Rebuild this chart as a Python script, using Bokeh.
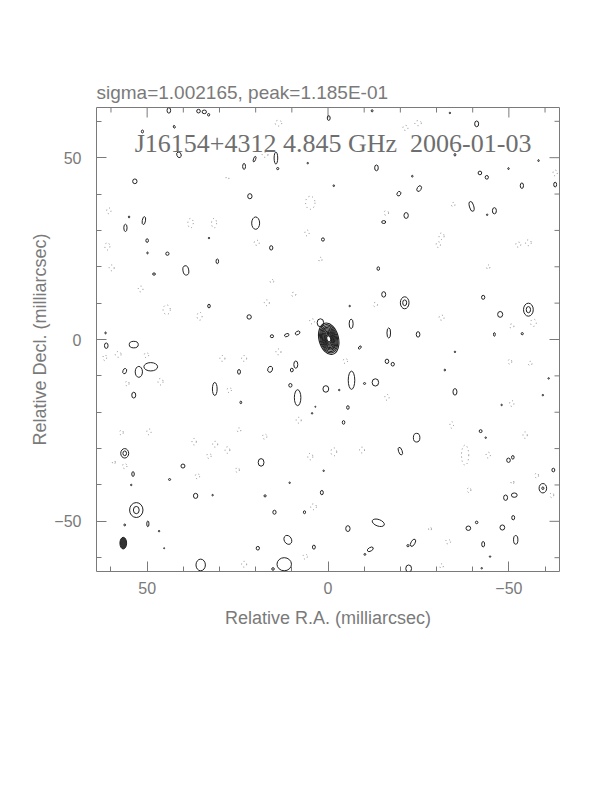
from bokeh.plotting import figure
from bokeh.models import Range1d, FixedTicker, Label, ColumnDataSource
from bokeh.embed import file_html
from bokeh.resources import INLINE
import math

# ---------------- data (milliarcsec) ----------------
sigma_text = "sigma=1.002165, peak=1.185E-01"
map_title = "J16154+4312 4.845 GHz\u00a0\u00a02006-01-03"
major_ticks = [-50, 0, 50]
minor_ticks = [-60, -40, -30, -20, -10, 10, 20, 30, 40, 60]
tick_labels = {-50: "\u221250", 0: "0", 50: "50"}
x_lim = [64, -64]
y_lim = [-63.8, 63.8]

# core component: centre, outer contour size, position angle, relative contour sizes
core_ra = -0.2
core_dec = 0.2
core_w = 5.4
core_h = 8.8
core_angle = 14
core_levels = [1.0, 0.9, 0.81, 0.72, 0.64, 0.56, 0.48, 0.41, 0.34, 0.27, 0.2]

# restoring beam
beam_ra = 56.6
beam_dec = -56.0
beam_w = 1.85
beam_h = 3.2

# positive (solid) noise contours: ra, dec, width, height, angle
pos_ra = [44, 35.8, 34.2, 33, 42.5, 51.3, 41.2, 23.2, 20.3, 53.4, 21.6, 55, 50.9, 56, 20.0, 50, 32.9, 49.9, 44.4, 30.6,
          39.3, 48.1, 32.9, 21.8, 61.5, -0.2, -12.2, 14.4, 13.9, 5.6, -13.4, -1.6, -19.6, -15.4, -21.6, 15.7, 1.4, -13.9,
          -15.4, -21.2, -6, 2.1, -6.4, -16.8, 15.5, 11.4, 8.4, -41.1, -33.7, -35.1, -42, -43.9, -49.9, -58.2, -62.8,
          -23.3, -25.2, -53.6, -39.7, -46, -44, -42.9, -47.6, -55.4, -24.9, -46, -53.7,
          61.3, 53.7, 56.2, 52.3, 49, 53.7, 31.3, 24.6, 24.1, 56.2, 53.9, 54.4, 40.1, 43.8, 36.6, 31.9, 53, 56.2, 49.8,
          46.7, 35.2, 45.3,
          -8.8, -16.3, -17.9, 16, 8.9, 10, 10.4, 8.4, 0.6, -6.5, -13.1, -10.1, -3.1, -5.5, -4.3, 3.5, 4.4, -20, 18.5,
          1.2, 10.6, 1.7, 17.4, 14.8, 6.5, -13.9, -5.5, 11.1, 19.4, 3.9, -11.7, -10.2, 12.1, 15.2, -22.1, -22.3,
          -35.1, -24.5, -32.3, -42.2, -43.6, -48, -49.9, -51.1, -62.3, -59.4, -49.1, -51.5, -51.2, -38.8, -41.1, -48.2,
          -23.5, -42.9, -51.9, -44.8, -42.5, -61, -59.4, -35.1]
pos_dec = [63, 62.8, 62.6, 61.8, 58.5, 57.2, 50.8, 47.6, 49.6, 43.5, 39.4, 33.7, 32.7, 30.7, 32, 27.2, 27.9, 23.8, 23.6, 21.5,
           19, 18, 9.2, 6.2, 1.8, 60.9, 62.9, 49.9, 47, 48.5, 47.2, 42.3, 40.1, 32.3, 34.1, 25.2, 27.5, 19.5,
           12.4, 10.1, 9.2, 4.6, 4.3, 1.8, 0.9, 1.2, 1.8, 59.3, 62.3, 50.8, 45.8, 44.6, 47, 49.2, 42.6,
           44.9, 41.5, 42.3, 36.6, 35.4, 34.3, 11.6, 6.9, 8.2, 1.4, 1.4, 1.6,
           -1.7, -1.4, -8.7, -8.9, -7.5, -15.3, -13.6, -8.9, -17.3, -31.3, -37, -40, -34.8, -38.5, -43, -42.8, -46.9, -51,
           -50.7, -52.7, -62, -57.4,
           -2.2, -6, -6.8, -8.2, -6.9, -8.4, -12.6, -16, -13.6, -11.2, -11.8, -12.1, -13.9, -18.7, -22.8, -18.5, -20.3,
           -30.7, -33.8, -36.1, -39.4, -42.1, -43, -47.5, -47.5, -50.4, -52, -55.1, -57.4, -57.1, -57.7, -59.1, -61.8,
           -63.1, -56.7, -63.0,
           -14.4, -27, -8.4, -25.2, -27, -18, -33.2, -32.4, -35.9, -40.9, -43.5, -42.8, -49, -51.9, -50.3, -51.7,
           -55.9, -56.3, -55.1, -59.7, -62.9, -10.7, -15.3, -3.4]
pos_w = [1.0, 1.0, 1.2, 0.6, 0.5, 0.6, 1.2, 0.8, 0.6, 1.2, 1.2, 0.4, 0.9, 0.9, 2.2, 0.7, 0.4, 0.4, 0.9, 0.7,
         1.6, 0.8, 0.7, 1.2, 0.4, 0.8, 0.5, 1.0, 0.6, 0.4, 1.0, 0.4, 1.0, 1.1, 1.2, 0.9, 0.8, 0.7,
         1.1, 2.4, 0.4, 1.8, 1.1, 1.0, 0.9, 1.3, 1.4, 1.1, 0.4, 0.5, 1.0, 0.9, 0.4, 0.4, 0.8,
         0.4, 1.1, 0.9, 1.2, 1.1, 0.4, 0.9, 1.4, 2.7, 1.0, 0.5, 0.6,
         1.0, 2.5, 1.0, 2.0, 3.8, 1.1, 1.3, 0.8, 0.5, 2.2, 0.7, 0.4, 1.1, 0.6, 1.2, 0.4, 3.7, 0.5, 0.6,
         0.4, 2.6, 0.3,
         0.6, 1.0, 0.9, 1.3, 1.1, 0.8, 0.9, 1.8, 1.6, 1.8, 1.8, 0.6, 0.4, 0.7, 0.7, 0.3, 0.4, 1.0, 1.6,
         0.4, 0.4, 0.8, 0.6, 0.9, 0.6, 3.5, 1.2, 2.0, 0.9, 0.8, 1.8, 0.5, 4.0, 0.7, 0.6, 1.6,
         1.1, 1.8, 0.4, 0.8, 0.4, 0.4, 1.0, 0.7, 0.8, 2.1, 1.1, 1.6, 0.8, 1.3, 0.7, 1.3,
         1.1, 0.8, 1.2, 0.4, 0.4, 0.4, 0.4, 0.4]
pos_h = [1.5, 1.0, 1.0, 0.7, 0.8, 0.8, 1.6, 1.6, 1.6, 1.3, 1.4, 0.5, 2.2, 2.0, 3.4, 1.0, 0.4, 0.5, 0.9, 1.3,
         2.6, 0.6, 1.0, 1.2, 0.5, 1.3, 0.6, 3.3, 0.6, 0.4, 1.6, 0.5, 1.3, 0.8, 1.6, 1.2, 0.9, 1.0,
         1.5, 3.3, 0.4, 2.2, 2.6, 2.8, 0.8, 0.8, 0.9, 1.6, 0.4, 0.7, 1.0, 1.0, 0.5, 0.5, 1.3,
         0.5, 1.7, 1.5, 2.8, 1.7, 0.4, 1.1, 1.6, 3.6, 1.5, 1.0, 0.6,
         1.5, 1.8, 1.5, 3.0, 2.3, 1.6, 3.6, 1.3, 0.7, 2.6, 1.3, 0.4, 1.1, 0.5, 1.4, 0.4, 4.1, 0.5, 1.6,
         0.4, 3.2, 0.3,
         1.0, 1.2, 1.0, 1.7, 2.0, 1.0, 1.0, 4.4, 1.8, 5.0, 2.0, 0.5, 0.4, 1.0, 1.0, 0.3, 0.4, 2.2, 2.1,
         0.4, 0.4, 1.2, 0.6, 1.1, 0.8, 1.8, 1.6, 2.6, 1.0, 1.1, 1.0, 0.5, 3.6, 0.7, 0.6, 2.0,
         1.8, 2.4, 0.5, 0.8, 0.4, 0.4, 1.2, 1.0, 1.0, 2.6, 1.5, 1.2, 1.2, 1.2, 0.7, 1.4,
         2.2, 1.5, 2.4, 0.4, 0.4, 0.4, 0.4, 0.4]
pos_ang = [0, 0, 0, 0, 20, 0, 20, 0, -20, 0, 0, 0, -10, 0, 0, 0, 0, 0, 0, 0,
           10, 0, 0, 0, 0, 0, 0, 0, 0, 0, 0, 0, -30, 0, 0, 0, 0, 0,
           0, 0, 0, 0, 0, 0, 0, 20, 30, 0, 0, 0, 0, 0, 0, 0, 0,
           0, -30, 0, 15, 0, 0, 0, 0, 0, 0, 0, 0,
           0, 0, -20, 0, 0, 0, 0, 0, 0, 0, 0, 0, 0, 0, 0, 0, 0, 0, 0,
           0, 0, 0,
           -40, 0, 0, -20, 0, 0, 0, 0, 0, 0, 0, 0, 0, 0, 0, 0, 0, 20, 0,
           0, 0, 0, 0, 0, 0, -20, 0, 30, 0, 0, 30, 0, 0, 0, 0, 0,
           0, 0, 0, 0, 0, 0, 0, 0, 0, 0, 0, 0, 0, 0, 0, 0,
           -30, 0, 0, 0, 0, 0, 0, 0]
# blobs that show a second (inner) contour level
inner_ra = [-21.2, -55.4, 56.2, 53, -59.4]
inner_dec = [10.1, 8.2, -31.3, -46.9, -40.9]
inner_w = [1.1, 1.2, 1.0, 1.6, 0.6]
inner_h = [1.6, 1.7, 1.3, 2.0, 0.7]

# negative (dotted) noise contours: ra, dec, width, height
neg_ra = [60.6, 61, 59.8, 51.8, 44.6, 38, 31.5, 35.5, 27.8, 13.7, 17.4, 4.9, 19.7, 5.8, -16.1, 2.1, 15.5, 9.5, 16.9,
          -13.1, 4.4, -21.4, -24.9, -62.8, -31.4, -30.5, -55.4, -52.6, -44.3, -31.4, -56.8, -50.8, -34.6,
          58, 61.7, 50.2, 46.3, 55.5, 29.2, 23.2, 27.3, 57.1, 49.5, 37, 31.2, 27.8, 32.9, 56.2, 36.1, 25, 23.2, 24.6, 59.2,
          13.7, -4.8, -16.3, 8.1, 17.5, -1.6, -9.4, 4.9, 4, 6.3,
          -50.3, -55.9, -50.8, -34.2, -54.5, -37.9, -44.3, -57.7, -61.9, -51, -39, -33.2, -31.4, -28.2]
neg_dec = [35.4, 25.6, 19.7, 13.9, 8.2, 32, 32, 6.4, 44.4, 59.5, 50.8, 37.6, 26.6, 29.3, 34.8, 22, 16, 12.4, 10.1,
           9.6, 5, 58.2, 59.5, 45.8, 28.4, 26.1, 26.6, 26.1, 19.9, 6, 4.6, 3.7, 37.1,
           -4.1, -5, -4.3, -11.6, -12.1, -5.2, -5.2, -13.9, -25.6, -25.4, -28.1, -28.8, -30.4, -32, -34.8, -37.6, -35.9,
           -61.8, -24.9, -33.8,
           -3.4, -5.9, -15.9, -22.2, -26.7, -30.9, -30.4, -32.2, -46, -59.7,
           -6.1, -6.6, -17.6, -23.5, -26.3, -31.8, -31.8, -37.4, -42.8, -39.3, -41.4, -55.6, -62.3, -52.1]
neg_w = [1.2, 1.4, 1.4, 1.3, 2.0, 1.5, 1.4, 1.4, 0.8, 1.8, 1.6, 2.6, 1.4, 1.2, 1.3, 0.9, 1.0, 1.2, 1.4,
         1.2, 1.4, 1.4, 1.8, 1.2, 1.4, 1.2, 1.6, 1.4, 0.9, 1.4, 1.6, 1.2, 1.0,
         1.6, 1.0, 1.2, 1.4, 1.0, 1.4, 1.4, 1.2, 1.0, 1.2, 1.2, 1.4, 1.3, 1.2, 1.2, 1.2, 1.0, 1.4, 1.0, 0.8,
         1.4, 1.2, 1.2, 1.4, 1.2, 1.6, 1.4, 1.4, 1.6, 1.2,
         1.0, 1.0, 1.2, 1.0, 1.2, 2.0, 1.2, 1.0, 1.0, 0.8, 1.0, 1.4, 1.0, 0.8]
neg_h = [1.6, 2.0, 1.6, 1.6, 2.6, 2.6, 2.6, 2.2, 0.8, 1.6, 1.4, 3.6, 1.4, 1.6, 1.3, 1.2, 1.0, 1.2, 1.6,
         1.2, 1.4, 1.4, 1.4, 1.6, 1.8, 1.6, 1.6, 1.4, 1.2, 1.4, 2.0, 1.2, 1.2,
         1.6, 1.6, 1.4, 1.8, 1.4, 1.6, 1.6, 1.4, 1.4, 1.6, 1.8, 1.6, 1.8, 1.4, 1.4, 1.4, 1.4, 1.6, 1.2, 1.0,
         1.6, 1.4, 1.6, 1.6, 1.4, 2.2, 1.6, 1.8, 1.6, 1.4,
         1.4, 1.2, 1.6, 1.8, 1.8, 5.5, 1.6, 1.4, 1.4, 1.0, 1.4, 1.2, 1.2, 1.0]

# ---------------- figure ----------------
GRAY = "#7a7a7a"
FW, FH = 463, 464
p = figure(width=600, height=660, x_range=Range1d(*x_lim), y_range=Range1d(*y_lim),
           output_backend="svg", toolbar_location=None, tools="",
           min_border_left=96, min_border_top=107, min_border_right=41, min_border_bottom=86)
p.frame_width = FW
p.frame_height = FH
p.xgrid.visible = False
p.ygrid.visible = False
p.outline_line_color = GRAY
p.outline_line_width = 1
p.background_fill_color = "white"
p.border_fill_color = "white"

ticker = FixedTicker(ticks=major_ticks, minor_ticks=minor_ticks)

for ax in (p.xaxis[0], p.yaxis[0]):
    ax.ticker = ticker
    ax.axis_line_color = None
    ax.major_tick_line_color = GRAY
    ax.minor_tick_line_color = GRAY
    ax.major_tick_in = 10
    ax.major_tick_out = 0
    ax.minor_tick_in = 5
    ax.minor_tick_out = 0
    ax.major_label_overrides = tick_labels
    ax.major_label_text_font = "Liberation Sans"
    ax.major_label_text_font_size = "16px"
    ax.major_label_text_color = GRAY
    ax.axis_label_text_font = "Liberation Sans"
    ax.axis_label_text_font_size = "18px"
    ax.axis_label_text_font_style = "normal"
    ax.axis_label_text_color = GRAY

p.xaxis[0].axis_label = "Relative R.A. (milliarcsec)"
p.yaxis[0].axis_label = "Relative Decl. (milliarcsec)"
p.xaxis[0].major_label_standoff = 10
p.xaxis[0].axis_label_standoff = 11
p.yaxis[0].major_label_standoff = 15
p.yaxis[0].axis_label_standoff = 1

# mirrored ticks on the top and right edges (lengths converted from pixels to data units)
dx_per_px = abs(x_lim[0] - x_lim[1]) / FW
dy_per_px = abs(y_lim[1] - y_lim[0]) / FH
for ticks, length in ((major_ticks, 10), (minor_ticks, 5)):
    # top edge
    p.segment(x0=ticks, y0=[y_lim[1]] * len(ticks), x1=ticks,
              y1=[y_lim[1] - length * dy_per_px] * len(ticks), line_color=GRAY, line_width=1)
    # right edge
    p.segment(x0=[x_lim[1]] * len(ticks), y0=ticks, x1=[x_lim[1] + length * dx_per_px] * len(ticks),
              y1=ticks, line_color=GRAY, line_width=1)

# negative contours (dotted)
p.ellipse(x=neg_ra, y=neg_dec, width=neg_w, height=neg_h, fill_color=None,
          line_color="#8a8a8a", line_width=1, line_dash="1 3")

# positive contours
p.ellipse(x=pos_ra, y=pos_dec, width=pos_w, height=pos_h, angle=[math.radians(a) for a in pos_ang],
          fill_color=None, line_color="#222222", line_width=1)
p.ellipse(x=inner_ra, y=inner_dec, width=inner_w, height=inner_h, fill_color=None,
          line_color="#222222", line_width=1)

# core nested contours
core_src = ColumnDataSource(dict(
    x=[core_ra] * len(core_levels), y=[core_dec] * len(core_levels),
    w=[core_w * f for f in core_levels], h=[core_h * f for f in core_levels]))
p.ellipse(x="x", y="y", width="w", height="h", angle=math.radians(core_angle), source=core_src,
          fill_color=None, line_color="#222222", line_width=1.1)

# beam
p.ellipse(x=[beam_ra], y=[beam_dec], width=[beam_w], height=[beam_h], fill_color="#333333",
          line_color="#222222", line_width=1)

# texts
p.title.text = sigma_text
p.title.align = "left"
p.title.text_font = "Liberation Sans"
p.title.text_font_size = "19px"
p.title.text_font_style = "normal"
p.title.text_color = GRAY
p.title.standoff = 10
p.add_layout(Label(x=-1.4, y=53.9, text=map_title, text_font="Liberation Serif",
                   text_font_size="26px", text_color="#6e6e6e",
                   text_baseline="alphabetic", text_align="center"))

open("out.html", "w").write(file_html(p, INLINE))
